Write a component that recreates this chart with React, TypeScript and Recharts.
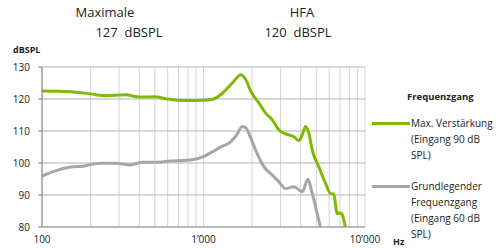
import { LineChart, Line, XAxis, YAxis, CartesianGrid } from 'recharts';

const maxGainFreq = [100, 150, 200, 250, 330, 400, 500, 600, 800, 1000, 1136, 1310, 1510, 1702, 1828, 1963, 2207, 2428, 2668, 2933, 3227, 3630, 3900, 4087, 4285, 4490, 4710, 5180, 5700, 6110, 6410, 6720, 7050, 7210, 7570];
const maxGainDb = [122.5, 122.3, 121.6, 121.0, 121.3, 120.6, 120.7, 120.0, 119.5, 119.6, 119.9, 121.8, 125.0, 127.6, 126.0, 122.4, 118.7, 115.6, 113.5, 110.3, 109.1, 108.2, 107.0, 108.8, 111.4, 109.3, 104.1, 98.8, 93.6, 90.5, 90.3, 84.2, 84.4, 84.0, 79.6];

const baseFreq = [100, 117, 148, 179, 227, 288, 348, 420, 508, 613, 741, 855, 1000, 1136, 1310, 1440, 1590, 1740, 1828, 1963, 2100, 2370, 2668, 2933, 3227, 3630, 4087, 4430, 4710, 5060, 5300];
const baseDb = [95.9, 97.3, 98.7, 99.0, 99.9, 99.9, 99.4, 100.2, 100.2, 100.6, 100.8, 101.0, 102.0, 103.5, 105.3, 106.2, 108.5, 111.4, 111.0, 107.8, 104.1, 98.8, 96.2, 94.1, 92.0, 92.6, 91.0, 94.9, 90.5, 84.2, 80.0];

const freqTicks = [100, 200, 300, 400, 500, 600, 700, 800, 900, 1000, 2000, 3000, 4000, 5000, 6000, 7000, 8000, 9000, 10000];
const decadeTicks = [100, 1000, 10000];
const dbTicks = [80, 90, 100, 110, 120, 130];

const legendLines = [
  ['Max. Verstärkung', '(Eingang 90 dB', 'SPL)'],
  ['Grundlegender', 'Frequenzgang', '(Eingang 60 dB', 'SPL)'],
];

const maxGain = maxGainFreq.map((f, i) => ({ f, db: maxGainDb[i] }));
const base = baseFreq.map((f, i) => ({ f, db: baseDb[i] }));

const GREEN = '#7fba00';
const GREY = '#a6a6a6';
const FONT = 'Open Sans, sans-serif';

const fmtHz = (v: number) =>
  decadeTicks.includes(v) ? String(v).replace(/\B(?=(\d{3})+(?!\d))/g, '\u2019') : '';

function LegendBox() {
  const colors = [GREEN, GREY];
  return (
    <div style={{ position: 'absolute', left: 372, top: 90, width: 130, height: 160, fontFamily: FONT, fontSize: 10, color: '#222' }}>
      <div style={{ position: 'absolute', left: 35, top: 0, fontWeight: 700, fontSize: 9.5 }}>Frequenzgang</div>
      {legendLines.map((lines, k) => (
        <div key={k} style={{ position: 'absolute', left: 0, top: k === 0 ? 25 : 88 }}>
          <div style={{ position: 'absolute', left: 0, top: 7, width: 38, height: 3, background: colors[k] }} />
          <div style={{ position: 'absolute', left: 39, top: 0, lineHeight: '16px', whiteSpace: 'nowrap' }}>
            {lines.map((t, j) => <div key={j}>{t}</div>)}
          </div>
        </div>
      ))}
    </div>
  );
}

export default function App() {
  const head = { position: 'absolute' as const, width: 100, textAlign: 'center' as const, fontSize: 13, color: '#222' };
  return (
    <div style={{ position: 'absolute', left: 0, top: 0, width: 502, height: 248, background: '#fff', fontFamily: FONT }}>
      <div style={{ ...head, left: 55, top: 3 }}>Maximale</div>
      <div style={{ ...head, left: 79, top: 23 }}>127&nbsp; dBSPL</div>
      <div style={{ ...head, left: 252, top: 3 }}>HFA</div>
      <div style={{ ...head, left: 248, top: 23 }}>120&nbsp; dBSPL</div>
      <div style={{ position: 'absolute', left: 13, top: 43, fontSize: 9, fontWeight: 700, color: '#222' }}>dBSPL</div>
      <div style={{ position: 'absolute', left: 393, top: 235, fontSize: 9, fontWeight: 700, color: '#222' }}>Hz</div>
      <LineChart width={502} height={248} margin={{ top: 67, right: 137, bottom: 0, left: 0 }}>
        <CartesianGrid horizontal={false} stroke="#d4d4d4" strokeWidth={1} />
        <CartesianGrid vertical={false} stroke="#b4b4b4" strokeWidth={1} />
        <XAxis
          type="number"
          dataKey="f"
          scale="log"
          domain={[100, 10000]}
          ticks={freqTicks}
          tickFormatter={fmtHz}
          interval={0}
          allowDataOverflow
          height={21}
          tickLine={false}
          tickSize={0}
          tickMargin={9}
          axisLine={{ stroke: '#9a9a9a' }}
          tick={{ fontSize: 10, fill: '#222', fontFamily: FONT }}
        />
        <YAxis
          type="number"
          dataKey="db"
          domain={[80, 130]}
          ticks={dbTicks}
          interval={0}
          allowDataOverflow
          width={42}
          tickSize={4}
          tickMargin={8}
          tickLine={{ stroke: '#808080' }}
          axisLine={{ stroke: '#808080' }}
          tick={{ fontSize: 10, fill: '#222', fontFamily: FONT }}
        />
        <Line data={base} dataKey="db" type="monotone" stroke={GREY} strokeWidth={3} dot={false} isAnimationActive={false} />
        <Line data={maxGain} dataKey="db" type="monotone" stroke={GREEN} strokeWidth={3} dot={false} isAnimationActive={false} />
      </LineChart>
      <LegendBox />
    </div>
  );
}
